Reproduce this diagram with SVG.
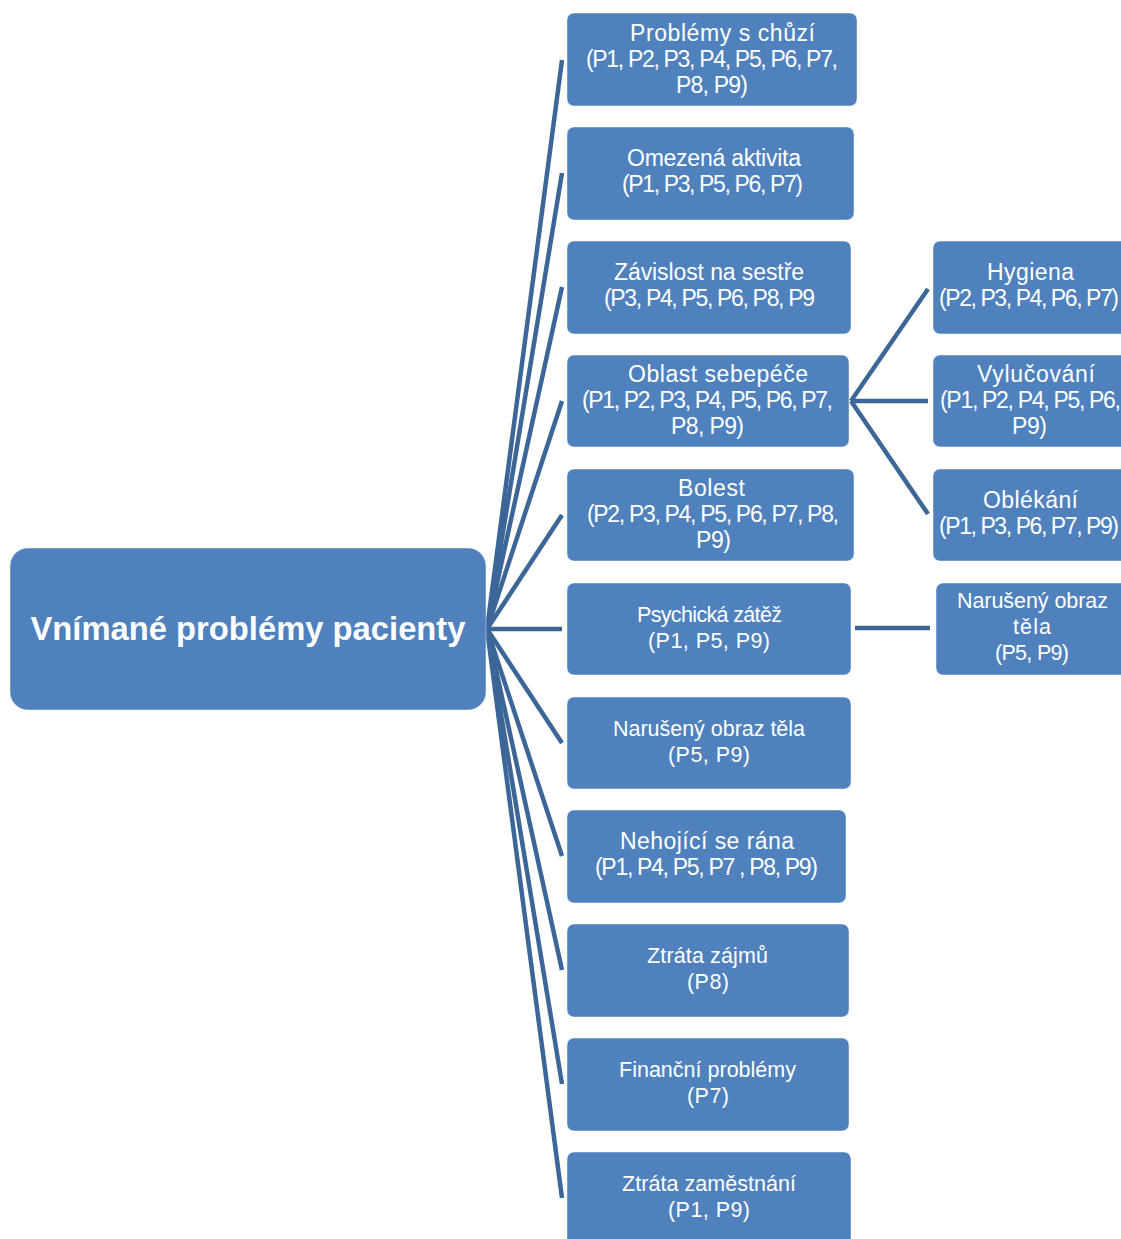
<svg xmlns="http://www.w3.org/2000/svg" width="1121" height="1239" viewBox="0 0 1121 1239">
  <style>
    .box { fill: #4F81BD; stroke: #ffffff; stroke-opacity: 0.45; stroke-width: 1; }
    .lbl { font-family: "Liberation Sans", Arial, sans-serif; font-size: 23px; fill: #ffffff; text-anchor: middle; }
    .sm { font-size: 21.5px; }
    .root { font-family: "Liberation Sans", Arial, sans-serif; font-size: 33px; font-weight: bold; fill: #ffffff; text-anchor: middle; }
    .conn { stroke: #3C6598; stroke-width: 4.5; fill: none; stroke-linecap: butt; }
  </style>
  <rect width="1121" height="1239" fill="#ffffff"/>

  <!-- connectors -->
  <g id="connectors">
    <line class="conn" x1="487" y1="629" x2="562" y2="60"/>
    <line class="conn" x1="487" y1="629" x2="562" y2="173"/>
    <line class="conn" x1="487" y1="629" x2="562" y2="287"/>
    <line class="conn" x1="487" y1="629" x2="562" y2="401"/>
    <line class="conn" x1="487" y1="629" x2="562" y2="515"/>
    <line class="conn" x1="487" y1="629" x2="562" y2="629"/>
    <line class="conn" x1="487" y1="629" x2="562" y2="743"/>
    <line class="conn" x1="487" y1="629" x2="562" y2="856"/>
    <line class="conn" x1="487" y1="629" x2="562" y2="970"/>
    <line class="conn" x1="487" y1="629" x2="562" y2="1084"/>
    <line class="conn" x1="487" y1="629" x2="562" y2="1198"/>
    <line class="conn" x1="851" y1="401" x2="928" y2="289"/>
    <line class="conn" x1="851" y1="401" x2="928" y2="401"/>
    <line class="conn" x1="851" y1="401" x2="928" y2="514"/>
    <line class="conn" x1="855" y1="628" x2="930" y2="628"/>
  </g>

  <!-- root -->
  <g id="root">
    <rect class="box" x="10" y="548" width="476" height="162" rx="18"/>
    <text class="root" x="248" y="640" textLength="435" lengthAdjust="spacingAndGlyphs">Vnímané problémy pacienty</text>
  </g>

  <!-- first level -->
  <g id="n1">
    <rect class="box" x="567" y="13" width="290" height="93" rx="7"/>
    <text class="lbl" x="722.5" y="41" textLength="185">Problémy s chůzí</text>
    <text class="lbl" x="712" y="67" textLength="252">(P1, P2, P3, P4, P5, P6, P7,</text>
    <text class="lbl" x="712" y="93" textLength="72">P8, P9)</text>
  </g>
  <g id="n2">
    <rect class="box" x="567" y="127" width="287" height="93" rx="7"/>
    <text class="lbl" x="714" y="166" textLength="174">Omezená aktivita</text>
    <text class="lbl" x="712.5" y="192" textLength="181">(P1, P3, P5, P6, P7)</text>
  </g>
  <g id="n3">
    <rect class="box" x="567" y="241" width="284" height="93" rx="7"/>
    <text class="lbl" x="709" y="280" textLength="190">Závislost na sestře</text>
    <text class="lbl" x="709.5" y="306" textLength="211">(P3, P4, P5, P6, P8, P9</text>
  </g>
  <g id="n4">
    <rect class="box" x="567" y="355" width="282" height="92" rx="7"/>
    <text class="lbl" x="718" y="382" textLength="180">Oblast sebepéče</text>
    <text class="lbl" x="707.5" y="408" textLength="251">(P1, P2, P3, P4, P5, P6, P7,</text>
    <text class="lbl" x="707.5" y="434" textLength="73">P8, P9)</text>
  </g>
  <g id="n5">
    <rect class="box" x="567" y="469" width="287" height="92" rx="7"/>
    <text class="lbl" x="711.5" y="496" textLength="67">Bolest</text>
    <text class="lbl" x="713" y="522" textLength="252">(P2, P3, P4, P5, P6, P7, P8,</text>
    <text class="lbl" x="713.5" y="548" textLength="35">P9)</text>
  </g>
  <g id="n6">
    <rect class="box" x="567" y="583" width="284" height="92" rx="7"/>
    <text class="lbl sm" x="709.5" y="622" textLength="145">Psychická zátěž</text>
    <text class="lbl sm" x="709" y="648" textLength="122">(P1, P5, P9)</text>
  </g>
  <g id="n7">
    <rect class="box" x="567" y="697" width="284" height="92" rx="7"/>
    <text class="lbl sm" x="709" y="736" textLength="192">Narušený obraz těla</text>
    <text class="lbl sm" x="709" y="762" textLength="82">(P5, P9)</text>
  </g>
  <g id="n8">
    <rect class="box" x="567" y="810" width="279" height="93" rx="7"/>
    <text class="lbl" x="707" y="849" textLength="174">Nehojící se rána</text>
    <text class="lbl" x="706.5" y="875" textLength="223">(P1, P4, P5, P7 , P8, P9)</text>
  </g>
  <g id="n9">
    <rect class="box" x="567" y="924" width="282" height="93" rx="7"/>
    <text class="lbl sm" x="707.5" y="963" textLength="121">Ztráta zájmů</text>
    <text class="lbl sm" x="708" y="989" textLength="42">(P8)</text>
  </g>
  <g id="n10">
    <rect class="box" x="567" y="1038" width="282" height="93" rx="7"/>
    <text class="lbl sm" x="707.5" y="1077" textLength="177">Finanční problémy</text>
    <text class="lbl sm" x="708" y="1103" textLength="42">(P7)</text>
  </g>
  <g id="n11">
    <rect class="box" x="567" y="1152" width="284" height="100" rx="7"/>
    <text class="lbl sm" x="709" y="1191" textLength="174">Ztráta zaměstnání</text>
    <text class="lbl sm" x="709" y="1217" textLength="82">(P1, P9)</text>
  </g>

  <!-- second level -->
  <g id="s1">
    <rect class="box" x="933" y="241" width="200" height="93" rx="7"/>
    <text class="lbl" x="1030.5" y="280" textLength="87">Hygiena</text>
    <text class="lbl" x="1029" y="306" textLength="180">(P2, P3, P4, P6, P7)</text>
  </g>
  <g id="s2">
    <rect class="box" x="933" y="355" width="200" height="92" rx="7"/>
    <text class="lbl" x="1036" y="382" textLength="118">Vylučování</text>
    <text class="lbl" x="1030.5" y="408" textLength="181">(P1, P2, P4, P5, P6,</text>
    <text class="lbl" x="1029.5" y="434" textLength="35">P9)</text>
  </g>
  <g id="s3">
    <rect class="box" x="933" y="469" width="200" height="92" rx="7"/>
    <text class="lbl" x="1030.5" y="508" textLength="95">Oblékání</text>
    <text class="lbl" x="1029" y="534" textLength="180">(P1, P3, P6, P7, P9)</text>
  </g>
  <g id="s4">
    <rect class="box" x="936" y="583" width="200" height="92" rx="7"/>
    <text class="lbl sm" x="1032.5" y="608" textLength="151">Narušený obraz</text>
    <text class="lbl sm" x="1032" y="634" textLength="38">těla</text>
    <text class="lbl sm" x="1032" y="660" textLength="74">(P5, P9)</text>
  </g>
</svg>
